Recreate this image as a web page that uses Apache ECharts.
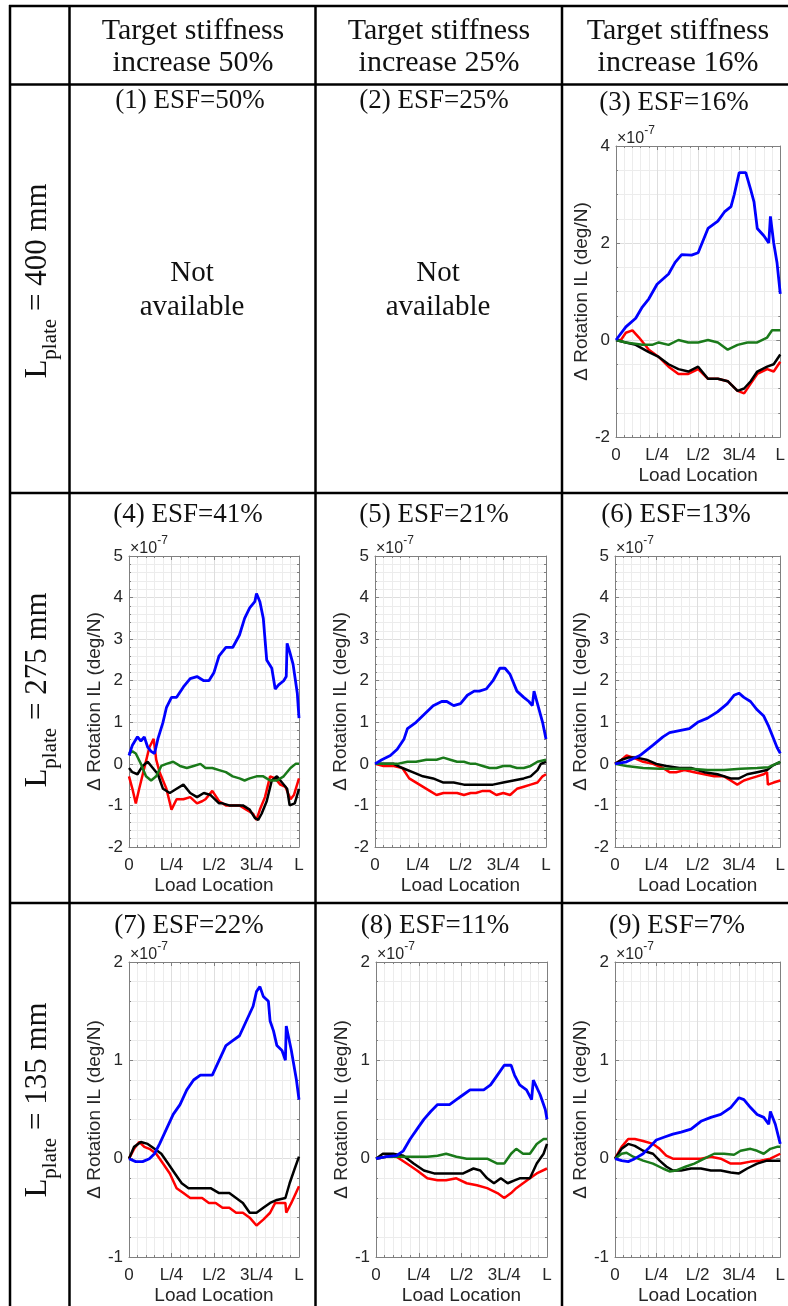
<!DOCTYPE html>
<html>
<head>
<meta charset="utf-8">
<script src="https://cdn.jsdelivr.net/npm/echarts@6/dist/echarts.min.js"></script>
<style>
  html, body { margin: 0; padding: 0; background: #ffffff; }
  #chart { width: 788px; height: 1306px; }
</style>
</head>
<body>
<div id="chart"></div>
<script>
// ---- Labels ----
const xTickLabels = ['0', 'L/4', 'L/2', '3L/4', 'L'];
const xAxisName = 'Load Location';
const yAxisName = '\u0394 Rotation IL (deg/N)';
const headerLine1 = ['Target stiffness', 'Target stiffness', 'Target stiffness'];
const headerLine2 = ['increase 50%', 'increase 25%', 'increase 16%'];
const rowLengths = ['400 mm', '275 mm', '135 mm'];
const cellTitles = ['(1) ESF=50%', '(2) ESF=25%', '(3) ESF=16%',
                    '(4) ESF=41%', '(5) ESF=21%', '(6) ESF=13%',
                    '(7) ESF=22%', '(8) ESF=11%', '(9) ESF=7%'];
const missingText = ['Not', 'available'];

// ---- Influence-line data: [load location / L, rotation change x1e-7 deg/N] ----
// Panel 3 (L_plate = 400 mm, ESF 16%)
const p3Red   = [[0,0],[0.03,0.0],[0.06,0.15],[0.1,0.2],[0.14,0.05],[0.2,-0.2],[0.26,-0.35],[0.32,-0.55],[0.38,-0.7],[0.44,-0.7],[0.5,-0.6],[0.56,-0.8],[0.62,-0.8],[0.68,-0.85],[0.74,-1.05],[0.78,-1.1],[0.82,-0.9],[0.86,-0.7],[0.92,-0.6],[0.96,-0.65],[1,-0.45]];
const p3Black = [[0,0],[0.06,-0.05],[0.12,-0.1],[0.2,-0.25],[0.26,-0.35],[0.32,-0.5],[0.38,-0.6],[0.44,-0.65],[0.5,-0.55],[0.56,-0.8],[0.62,-0.8],[0.68,-0.85],[0.74,-1.05],[0.78,-1.0],[0.82,-0.85],[0.86,-0.65],[0.92,-0.55],[0.96,-0.5],[1,-0.3]];
const p3Green = [[0,0],[0.06,-0.05],[0.16,-0.1],[0.22,-0.1],[0.26,-0.05],[0.32,-0.1],[0.38,0.0],[0.44,-0.05],[0.5,-0.05],[0.56,0.0],[0.62,-0.05],[0.68,-0.2],[0.74,-0.1],[0.8,-0.05],[0.86,-0.05],[0.92,0.05],[0.95,0.2],[1,0.2]];
const p3Blue  = [[0,0],[0.06,0.27],[0.12,0.45],[0.16,0.68],[0.2,0.85],[0.25,1.15],[0.32,1.36],[0.36,1.6],[0.4,1.76],[0.46,1.75],[0.5,1.8],[0.56,2.3],[0.62,2.45],[0.66,2.64],[0.7,2.75],[0.72,3.0],[0.75,3.45],[0.79,3.45],[0.82,3.1],[0.84,2.85],[0.86,2.3],[0.9,2.15],[0.93,2.0],[0.94,2.55],[0.96,2.0],[0.98,1.6],[1,0.95]];

// Panel 4 (L_plate = 275 mm, ESF 41%)
const p4Red   = [[0,-0.3],[0.02,-0.6],[0.04,-0.95],[0.06,-0.6],[0.09,-0.1],[0.12,0.4],[0.145,0.6],[0.16,0.1],[0.18,-0.2],[0.22,-0.6],[0.25,-1.1],[0.28,-0.85],[0.32,-0.85],[0.36,-0.8],[0.4,-0.95],[0.43,-0.9],[0.45,-0.85],[0.49,-0.65],[0.53,-0.9],[0.57,-1.0],[0.61,-1.0],[0.65,-1.0],[0.69,-1.1],[0.73,-1.2],[0.75,-1.35],[0.77,-1.1],[0.8,-0.8],[0.83,-0.3],[0.86,-0.35],[0.89,-0.5],[0.92,-0.55],[0.95,-0.85],[0.97,-0.75],[1,-0.35]];
const p4Black = [[0,-0.1],[0.02,-0.2],[0.05,-0.25],[0.08,-0.05],[0.11,0.05],[0.14,-0.1],[0.17,-0.25],[0.2,-0.6],[0.24,-0.7],[0.28,-0.6],[0.32,-0.5],[0.36,-0.7],[0.4,-0.8],[0.44,-0.7],[0.48,-0.75],[0.53,-0.95],[0.55,-0.95],[0.59,-1.0],[0.63,-1.0],[0.67,-1.0],[0.71,-1.1],[0.74,-1.3],[0.76,-1.35],[0.78,-1.2],[0.81,-0.9],[0.84,-0.4],[0.87,-0.3],[0.9,-0.45],[0.93,-0.6],[0.945,-1.0],[0.975,-0.95],[1,-0.6]];
const p4Green = [[0,0.25],[0.02,0.3],[0.04,0.25],[0.07,0.0],[0.1,-0.3],[0.13,-0.4],[0.16,-0.3],[0.19,-0.05],[0.22,0.0],[0.26,0.05],[0.3,-0.05],[0.34,-0.1],[0.38,-0.05],[0.42,0.0],[0.45,-0.1],[0.49,-0.1],[0.53,-0.15],[0.57,-0.2],[0.61,-0.3],[0.65,-0.35],[0.68,-0.4],[0.71,-0.35],[0.75,-0.3],[0.79,-0.3],[0.83,-0.4],[0.87,-0.4],[0.91,-0.3],[0.95,-0.1],[0.98,0.0],[1,0.0]];
const p4Blue  = [[0,0.2],[0.02,0.45],[0.05,0.65],[0.07,0.55],[0.09,0.65],[0.11,0.4],[0.13,0.3],[0.15,0.25],[0.17,0.6],[0.2,1.0],[0.22,1.35],[0.25,1.6],[0.28,1.6],[0.32,1.85],[0.36,2.05],[0.4,2.1],[0.44,2.0],[0.47,2.0],[0.5,2.2],[0.53,2.6],[0.57,2.8],[0.61,2.8],[0.65,3.1],[0.68,3.5],[0.71,3.75],[0.74,3.9],[0.75,4.1],[0.77,3.9],[0.79,3.5],[0.81,2.5],[0.84,2.3],[0.86,1.8],[0.88,1.9],[0.91,2.0],[0.925,2.1],[0.93,2.9],[0.945,2.7],[0.965,2.4],[0.99,1.7],[1,1.1]];

// Panel 5 (L_plate = 275 mm, ESF 21%)
const p5Red   = [[0,0],[0.05,-0.05],[0.11,-0.05],[0.16,-0.1],[0.2,-0.35],[0.26,-0.5],[0.32,-0.65],[0.36,-0.75],[0.4,-0.7],[0.44,-0.7],[0.48,-0.7],[0.52,-0.75],[0.56,-0.7],[0.59,-0.7],[0.63,-0.65],[0.67,-0.65],[0.71,-0.75],[0.75,-0.7],[0.79,-0.75],[0.83,-0.6],[0.87,-0.55],[0.91,-0.5],[0.95,-0.45],[0.98,-0.3],[1,-0.25]];
const p5Black = [[0,0],[0.11,0.0],[0.16,-0.1],[0.22,-0.2],[0.28,-0.3],[0.34,-0.35],[0.4,-0.45],[0.46,-0.45],[0.52,-0.5],[0.58,-0.5],[0.63,-0.5],[0.69,-0.5],[0.75,-0.45],[0.81,-0.4],[0.87,-0.35],[0.91,-0.3],[0.95,-0.15],[0.97,0.0],[1,0.05]];
const p5Green = [[0,0],[0.07,0.0],[0.13,0.0],[0.19,0.05],[0.24,0.05],[0.3,0.1],[0.36,0.1],[0.4,0.15],[0.44,0.1],[0.48,0.05],[0.52,0.05],[0.56,0.0],[0.59,0.0],[0.63,-0.05],[0.67,-0.1],[0.71,-0.1],[0.75,-0.05],[0.79,-0.05],[0.83,-0.1],[0.87,-0.1],[0.91,-0.05],[0.95,0.05],[1,0.1]];
const p5Blue  = [[0,0],[0.04,0.1],[0.09,0.2],[0.13,0.35],[0.17,0.6],[0.19,0.85],[0.24,1.0],[0.29,1.2],[0.34,1.4],[0.39,1.5],[0.42,1.5],[0.46,1.4],[0.5,1.45],[0.54,1.65],[0.58,1.75],[0.61,1.75],[0.65,1.8],[0.69,2.0],[0.73,2.3],[0.76,2.3],[0.79,2.15],[0.83,1.75],[0.87,1.6],[0.9,1.5],[0.92,1.4],[0.93,1.75],[0.96,1.3],[0.98,1.0],[1,0.6]];

// Panel 6 (L_plate = 275 mm, ESF 13%)
const p6Red   = [[0,0],[0.04,0.1],[0.07,0.2],[0.11,0.15],[0.17,0.05],[0.23,0.0],[0.29,-0.1],[0.33,-0.2],[0.37,-0.2],[0.42,-0.15],[0.48,-0.2],[0.54,-0.25],[0.6,-0.3],[0.66,-0.3],[0.7,-0.4],[0.74,-0.5],[0.78,-0.4],[0.82,-0.35],[0.86,-0.3],[0.9,-0.25],[0.92,-0.2],[0.925,-0.5],[0.96,-0.45],[1,-0.4]];
const p6Black = [[0,0],[0.04,0.1],[0.08,0.15],[0.13,0.15],[0.19,0.1],[0.25,0.0],[0.31,-0.05],[0.39,-0.1],[0.46,-0.1],[0.54,-0.2],[0.62,-0.25],[0.7,-0.35],[0.75,-0.35],[0.8,-0.25],[0.86,-0.2],[0.92,-0.15],[0.95,-0.05],[1,0.05]];
const p6Green = [[0,0],[0.07,-0.05],[0.17,-0.1],[0.27,-0.12],[0.37,-0.12],[0.46,-0.12],[0.56,-0.15],[0.66,-0.15],[0.76,-0.12],[0.86,-0.1],[0.93,-0.08],[1,0.05]];
const p6Blue  = [[0,0],[0.07,0.05],[0.15,0.2],[0.23,0.45],[0.29,0.65],[0.33,0.75],[0.39,0.8],[0.45,0.85],[0.5,1.0],[0.56,1.1],[0.62,1.25],[0.68,1.45],[0.72,1.65],[0.75,1.7],[0.78,1.6],[0.82,1.5],[0.86,1.3],[0.9,1.15],[0.93,0.9],[0.95,0.7],[0.98,0.4],[1,0.25]];

// Panel 7 (L_plate = 135 mm, ESF 22%)
const p7Red   = [[0,0],[0.03,0.1],[0.06,0.17],[0.09,0.12],[0.12,0.1],[0.16,0.05],[0.2,-0.05],[0.24,-0.15],[0.28,-0.3],[0.32,-0.35],[0.36,-0.4],[0.39,-0.4],[0.43,-0.4],[0.47,-0.45],[0.51,-0.45],[0.55,-0.5],[0.59,-0.5],[0.63,-0.55],[0.67,-0.55],[0.71,-0.6],[0.75,-0.68],[0.79,-0.62],[0.83,-0.55],[0.86,-0.45],[0.9,-0.45],[0.92,-0.45],[0.925,-0.55],[0.955,-0.45],[1,-0.28]];
const p7Black = [[0,0],[0.03,0.12],[0.07,0.17],[0.11,0.15],[0.15,0.1],[0.19,0.05],[0.23,-0.05],[0.27,-0.15],[0.31,-0.25],[0.35,-0.3],[0.4,-0.3],[0.44,-0.3],[0.48,-0.3],[0.53,-0.35],[0.55,-0.35],[0.59,-0.35],[0.63,-0.4],[0.67,-0.45],[0.71,-0.55],[0.75,-0.55],[0.79,-0.5],[0.83,-0.45],[0.87,-0.42],[0.92,-0.4],[0.945,-0.25],[0.975,-0.1],[1,0.02]];
const p7Green = [];
const p7Blue  = [[0,0],[0.04,-0.03],[0.08,-0.03],[0.12,0.0],[0.15,0.05],[0.18,0.15],[0.22,0.3],[0.26,0.45],[0.3,0.55],[0.34,0.7],[0.38,0.8],[0.42,0.85],[0.45,0.85],[0.49,0.85],[0.53,1.0],[0.57,1.15],[0.61,1.2],[0.65,1.25],[0.69,1.4],[0.73,1.55],[0.75,1.7],[0.77,1.75],[0.79,1.65],[0.82,1.6],[0.83,1.4],[0.85,1.3],[0.87,1.15],[0.9,1.1],[0.92,1.0],[0.925,1.35],[0.955,1.1],[0.985,0.8],[1,0.6]];

// Panel 8 (L_plate = 135 mm, ESF 11%)
const p8Red   = [[0,0],[0.06,0.02],[0.12,0.02],[0.18,-0.05],[0.24,-0.12],[0.3,-0.2],[0.36,-0.22],[0.41,-0.22],[0.47,-0.2],[0.53,-0.25],[0.59,-0.27],[0.65,-0.3],[0.71,-0.35],[0.75,-0.4],[0.79,-0.35],[0.82,-0.3],[0.86,-0.25],[0.9,-0.2],[0.94,-0.15],[1,-0.1]];
const p8Black = [[0,0],[0.04,0.05],[0.1,0.05],[0.16,0.03],[0.22,-0.05],[0.28,-0.12],[0.34,-0.15],[0.4,-0.15],[0.45,-0.15],[0.51,-0.15],[0.57,-0.1],[0.61,-0.12],[0.65,-0.2],[0.69,-0.25],[0.73,-0.2],[0.77,-0.25],[0.81,-0.22],[0.84,-0.2],[0.9,-0.2],[0.94,-0.05],[0.98,0.05],[1,0.15]];
const p8Green = [[0,0],[0.06,0.02],[0.12,0.02],[0.18,0.02],[0.24,0.02],[0.3,0.02],[0.36,0.03],[0.41,0.05],[0.47,0.02],[0.53,0.0],[0.59,0.0],[0.65,0.0],[0.71,-0.05],[0.75,-0.05],[0.79,0.05],[0.82,0.1],[0.86,0.05],[0.9,0.05],[0.94,0.15],[0.98,0.2],[1,0.2]];
const p8Blue  = [[0,0],[0.06,0.02],[0.12,0.03],[0.16,0.08],[0.2,0.2],[0.24,0.3],[0.28,0.4],[0.32,0.48],[0.36,0.55],[0.4,0.55],[0.43,0.55],[0.47,0.6],[0.51,0.65],[0.55,0.7],[0.59,0.7],[0.63,0.7],[0.67,0.75],[0.71,0.85],[0.75,0.95],[0.79,0.95],[0.81,0.85],[0.84,0.75],[0.88,0.7],[0.91,0.6],[0.92,0.8],[0.96,0.65],[0.99,0.5],[1,0.4]];

// Panel 9 (L_plate = 135 mm, ESF 7%)
const p9Red   = [[0,0],[0.04,0.12],[0.08,0.2],[0.12,0.2],[0.17,0.18],[0.23,0.15],[0.27,0.1],[0.31,0.03],[0.35,0.0],[0.4,0.0],[0.46,0.0],[0.52,0.0],[0.58,0.02],[0.64,0.0],[0.7,-0.05],[0.76,-0.05],[0.82,-0.03],[0.88,-0.02],[0.94,0.0],[1,0.05]];
const p9Black = [[0,0],[0.04,0.1],[0.08,0.15],[0.12,0.13],[0.17,0.08],[0.23,0.05],[0.27,-0.02],[0.31,-0.08],[0.35,-0.12],[0.4,-0.12],[0.46,-0.1],[0.52,-0.1],[0.58,-0.12],[0.64,-0.12],[0.7,-0.14],[0.75,-0.15],[0.8,-0.1],[0.86,-0.05],[0.92,-0.02],[1,-0.02]];
const p9Green = [[0,0],[0.04,0.05],[0.07,0.06],[0.11,0.02],[0.17,-0.02],[0.23,-0.05],[0.29,-0.1],[0.33,-0.13],[0.37,-0.12],[0.43,-0.08],[0.48,-0.05],[0.54,0.0],[0.6,0.05],[0.66,0.05],[0.72,0.04],[0.76,0.08],[0.82,0.1],[0.86,0.08],[0.9,0.05],[0.94,0.1],[0.98,0.12],[1,0.12]];
const p9Blue  = [[0,0],[0.04,-0.02],[0.08,-0.03],[0.12,0.0],[0.17,0.05],[0.2,0.1],[0.25,0.19],[0.3,0.22],[0.35,0.25],[0.4,0.27],[0.46,0.3],[0.52,0.38],[0.58,0.42],[0.64,0.45],[0.7,0.52],[0.75,0.62],[0.78,0.6],[0.82,0.52],[0.86,0.45],[0.9,0.42],[0.93,0.35],[0.94,0.48],[0.97,0.35],[1,0.15]];

// ---- Page geometry ----
const SERIF = '"Liberation Serif", "Times New Roman", serif';
const SANS = '"Liberation Sans", Arial, sans-serif';
const TEXT_GRAY = '#262626';
const AXIS_GRAY = '#808080';
const colX = [10, 69.5, 315.5, 562];
const rowY = [6, 84.5, 493, 903];
const colCenter = [190, 436, 675];

const panels = [
  { title: cellTitles[2], tx: 674, ty: 103, box: [616, 146, 167, 291], y: [-2, 4, 2, 4], lines: [p3Red, p3Black, p3Green, p3Blue] },
  { title: cellTitles[3], tx: 188, ty: 515, box: [129, 556, 170, 291], y: [-2, 5, 1, 5], lines: [p4Red, p4Black, p4Green, p4Blue] },
  { title: cellTitles[4], tx: 434, ty: 515, box: [375, 556, 171, 291], y: [-2, 5, 1, 5], lines: [p5Red, p5Black, p5Green, p5Blue] },
  { title: cellTitles[5], tx: 676, ty: 515, box: [615, 556, 168, 291], y: [-2, 5, 1, 5], lines: [p6Red, p6Black, p6Green, p6Blue] },
  { title: cellTitles[6], tx: 189, ty: 926, box: [129, 962, 170, 295], y: [-1, 2, 1, 5], lines: [p7Red, p7Black, p7Green, p7Blue] },
  { title: cellTitles[7], tx: 435, ty: 926, box: [376, 962, 171, 295], y: [-1, 2, 1, 5], lines: [p8Red, p8Black, p8Green, p8Blue] },
  { title: cellTitles[8], tx: 677, ty: 926, box: [615, 962, 168, 295], y: [-1, 2, 1, 5], lines: [p9Red, p9Black, p9Green, p9Blue] }
];
const lineColors = ['#ff0000', '#000000', '#1a7a1a', '#0000ff'];

const grid = [], xAxis = [], yAxis = [], series = [], graphic = [];

panels.forEach((p, i) => {
  const [left, top, width, height] = p.box;
  grid.push({ left, top, width, height, containLabel: false });
  const frame = { show: true, onZero: false, lineStyle: { color: AXIS_GRAY, width: 1 } };
  const tick = { show: true, inside: true, length: 4, lineStyle: { color: AXIS_GRAY } };
  const minor = (n) => ({ show: true, splitNumber: n, length: 2, lineStyle: { color: AXIS_GRAY } });
  xAxis.push({
    gridIndex: i, type: 'value', min: 0, max: 1, interval: 0.25, position: 'bottom',
    axisLine: frame, axisTick: tick, minorTick: minor(5),
    axisLabel: { margin: 10, fontSize: 17, fontFamily: SANS, color: TEXT_GRAY,
                 formatter: v => xTickLabels[Math.round(v / 0.25)] },
    splitLine: { show: true, lineStyle: { color: '#dedede', width: 1 } },
    minorSplitLine: { show: true, lineStyle: { color: '#ececec', width: 1 } },
    name: xAxisName, nameLocation: 'middle', nameGap: 29,
    nameTextStyle: { fontSize: 19, fontFamily: SANS, color: TEXT_GRAY }
  });
  xAxis.push({
    gridIndex: i, type: 'value', min: 0, max: 1, interval: 0.25, position: 'top',
    axisLine: frame, axisTick: tick, minorTick: minor(5), axisLabel: { show: false }, splitLine: { show: false }
  });
  const [yMin, yMax, yStep, yMinor] = p.y;
  yAxis.push({
    gridIndex: i, type: 'value', min: yMin, max: yMax, interval: yStep, position: 'left',
    axisLine: frame, axisTick: tick, minorTick: minor(yMinor),
    axisLabel: { margin: 6, fontSize: 17, fontFamily: SANS, color: TEXT_GRAY },
    splitLine: { show: true, lineStyle: { color: '#dedede', width: 1 } },
    minorSplitLine: { show: true, lineStyle: { color: '#ececec', width: 1 } },
    name: yAxisName, nameLocation: 'middle', nameGap: 24,
    nameTextStyle: { fontSize: 19, fontFamily: SANS, color: TEXT_GRAY }
  });
  yAxis.push({
    gridIndex: i, type: 'value', min: yMin, max: yMax, interval: yStep, position: 'right',
    axisLine: frame, axisTick: tick, minorTick: minor(yMinor), axisLabel: { show: false }, splitLine: { show: false }
  });
  p.lines.forEach((d, k) => {
    if (!d.length) return;
    series.push({
      type: 'line', xAxisIndex: 2 * i, yAxisIndex: 2 * i, data: d,
      showSymbol: false, symbol: 'none', animation: false, silent: true,
      lineStyle: { color: lineColors[k], width: k === 3 ? 2.8 : 2.5 }, z: 3 + k
    });
  });
  // cell title
  graphic.push({ type: 'text', x: p.tx, y: p.ty, style: { text: p.title, font: '27px ' + SERIF, fill: '#111', align: 'center', verticalAlign: 'middle' } });
  // axis exponent
  graphic.push({ type: 'text', x: left + 1, y: top - 10, style: {
    text: '{a|\u00d710}{b|-7}', align: 'left', verticalAlign: 'middle',
    rich: { a: { fontSize: 16, fontFamily: SANS, fill: TEXT_GRAY, color: TEXT_GRAY, lineHeight: 22, verticalAlign: 'bottom' },
            b: { fontSize: 12, fontFamily: SANS, fill: TEXT_GRAY, color: TEXT_GRAY, lineHeight: 22, verticalAlign: 'top' } } } });
});

// ---- Table frame ----
colX.forEach(x => graphic.push({ type: 'line', shape: { x1: x, y1: rowY[0] - 1, x2: x, y2: 1306 }, style: { stroke: '#000', lineWidth: 2.5 } }));
rowY.forEach(y => graphic.push({ type: 'line', shape: { x1: colX[0] - 1, y1: y, x2: 788, y2: y }, style: { stroke: '#000', lineWidth: 2.5 } }));

// ---- Column headers ----
colCenter.forEach((cx, j) => {
  graphic.push({ type: 'text', x: cx + 3, y: 31, style: { text: headerLine1[j], font: '30px ' + SERIF, fill: '#111', align: 'center', verticalAlign: 'middle' } });
  graphic.push({ type: 'text', x: cx + 3, y: 63, style: { text: headerLine2[j], font: '30px ' + SERIF, fill: '#111', align: 'center', verticalAlign: 'middle' } });
});

// ---- Row headers ----
const rowCenters = [281, 690, 1100];
rowLengths.forEach((len, r) => {
  graphic.push({ type: 'text', x: 38, y: rowCenters[r], rotation: Math.PI / 2, style: {
    text: '{a|L}{b|plate}{a| = ' + len + '}', align: 'center', verticalAlign: 'middle',
    rich: { a: { fontSize: 31, fontFamily: SERIF, fill: '#111', color: '#111', lineHeight: 46, verticalAlign: 'middle' },
            b: { fontSize: 21, fontFamily: SERIF, fill: '#111', color: '#111', lineHeight: 46, verticalAlign: 'bottom' } } } });
});

// ---- Top row cells without data ----
graphic.push({ type: 'text', x: 190, y: 101, style: { text: cellTitles[0], font: '27px ' + SERIF, fill: '#111', align: 'center', verticalAlign: 'middle' } });
graphic.push({ type: 'text', x: 434, y: 101, style: { text: cellTitles[1], font: '27px ' + SERIF, fill: '#111', align: 'center', verticalAlign: 'middle' } });
[192, 438].forEach(cx => {
  graphic.push({ type: 'text', x: cx, y: 273, style: { text: missingText[0], font: '29px ' + SERIF, fill: '#111', align: 'center', verticalAlign: 'middle' } });
  graphic.push({ type: 'text', x: cx, y: 307, style: { text: missingText[1], font: '29px ' + SERIF, fill: '#111', align: 'center', verticalAlign: 'middle' } });
});

const chart = echarts.init(document.getElementById('chart'), null, { renderer: 'canvas' });
chart.setOption({
  backgroundColor: '#ffffff',
  animation: false,
  grid, xAxis, yAxis, series, graphic
});
</script>
</body>
</html>
